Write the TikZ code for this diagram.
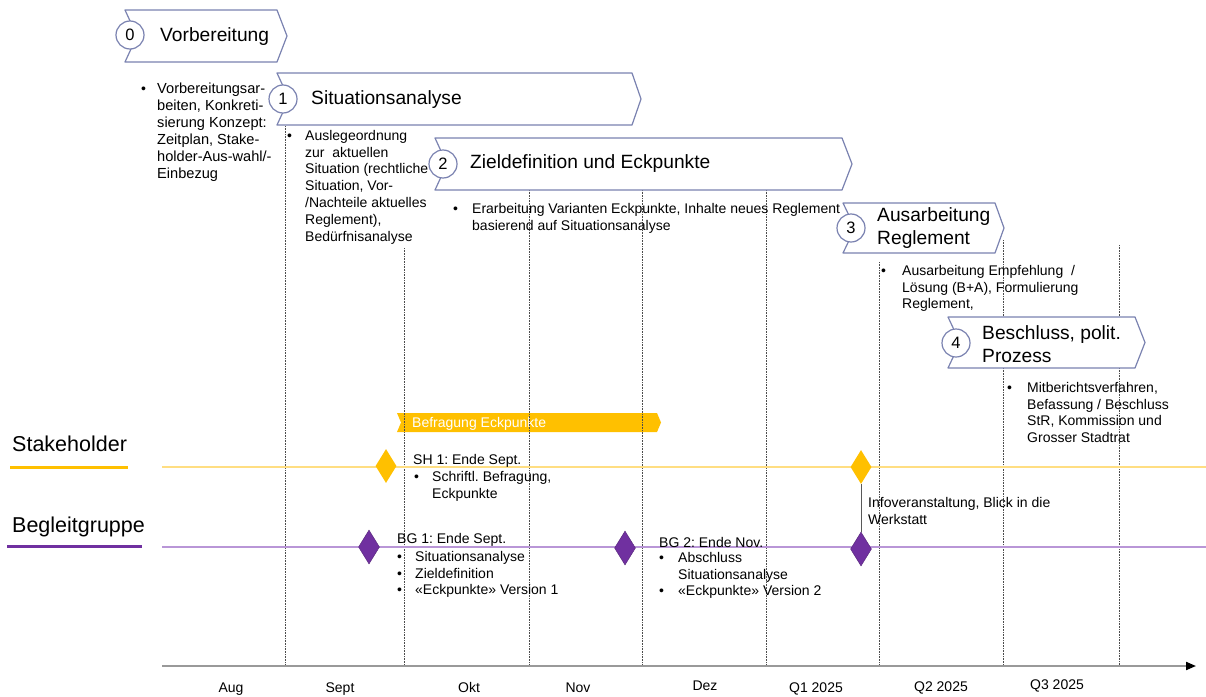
\documentclass[tikz,border=0pt]{standalone}
\usepackage{fontspec}
\setmainfont{Liberation Sans}
\usetikzlibrary{shapes.geometric,arrows.meta}

\definecolor{phaseblue}{RGB}{122,130,176}
\definecolor{shorange}{RGB}{255,192,0}
\definecolor{shline}{RGB}{255,222,130}
\definecolor{bgpurple}{RGB}{112,48,160}
\definecolor{bgline}{RGB}{185,150,215}

\tikzset{
  phase/.style={draw=phaseblue, fill=white, line width=1.2pt, line join=round},
  phasenum/.style={circle, draw=phaseblue, fill=white, line width=1.2pt, minimum size=28pt, inner sep=0pt, font=\fontsize{16.5}{19}\selectfont},
  phasetitle/.style={anchor=west, align=left, inner sep=0pt, font=\fontsize{19.2}{23}\selectfont},
  txt/.style={anchor=north west, align=left, inner sep=0pt, font=\fontsize{14}{16.8}\selectfont},
  bullet/.style={txt, execute at begin node=\vphantom{Ab}},
  guide/.style={densely dotted, black!70, line width=0.6pt},
  shdia/.style={diamond, fill=shorange, inner sep=0pt, minimum width=21pt, minimum height=34pt},
  bgdia/.style={diamond, fill=bgpurple, draw=bgpurple!75!black, line width=0.4pt, inner sep=0pt, minimum width=21pt, minimum height=34pt},
  month/.style={inner sep=0pt, anchor=base, font=\fontsize{14}{16}\selectfont},
  lane/.style={inner sep=0pt, anchor=west, font=\fontsize{21.5}{24}\selectfont}
}

\begin{document}
\frenchspacing
\begin{tikzpicture}[x=1pt, y=-1pt]
  \useasboundingbox (0,0) rectangle (1206,696);

  %------------- Befragung
  \fill[shorange] (397,413) -- (657,413) -- (661,422.5) -- (657,432) -- (397,432) -- (401,422.5) -- cycle;
  \node[txt, anchor=west, text=white] (befragung) at (412,424) {Befragung Eckpunkte};

  %------------- month grid
  \draw[guide] (285,126) -- (285,665);
  \draw[guide] (404,248) -- (404,665);
  \draw[guide] (529,190) -- (529,665);
  \draw[guide] (642,190) -- (642,665);
  \draw[guide] (766,190) -- (766,665);
  \draw[guide] (879,262) -- (879,665);
  \draw[guide] (1003,240) -- (1003,665);
  \draw[guide] (1119,245) -- (1119,665);

  %------------- phases
  \draw[phase] (125,10) -- (277,10) -- (287,36) -- (277,62) -- (125,62) -- (137,36) -- cycle;
  \node[phasenum] (n0) at (130,35) {0};
  \node[phasetitle] (t0) at (160,37) {Vorbereitung};

  \draw[phase] (277,73) -- (632,73) -- (641,99) -- (632,125) -- (277,125) -- (289,99) -- cycle;
  \node[phasenum] (n1) at (283,99) {1};
  \node[phasetitle] (t1) at (311,100) {Situationsanalyse};

  \draw[phase] (435,138) -- (842,138) -- (852,164) -- (842,190) -- (435,190) -- (447,164) -- cycle;
  \node[phasenum] (n2) at (443,164) {2};
  \node[phasetitle] (t2) at (470,164) {Zieldefinition und Eckpunkte};

  \draw[phase] (843,203) -- (995,203) -- (1004,228) -- (995,253) -- (843,253) -- (855,228) -- cycle;
  \node[phasenum] (n3) at (851,228) {3};
  \node[phasetitle] (t3) at (877,228.5) {Ausarbeitung\\Reglement};

  \draw[phase] (948,317) -- (1135,317) -- (1145,342.5) -- (1135,368) -- (948,368) -- (960,342.5) -- cycle;
  \node[phasenum] (n4) at (956,343) {4};
  \node[phasetitle] (t4) at (982,344) {Beschluss, polit.\\Prozess};

  %------------- phase texts
  \node[bullet] (b0) at (141,83) {•};
  \node[txt, font=\fontsize{14.6}{17}\selectfont] (d0) at (157,83) {Vorbereitungsar-\\beiten, Konkreti-\\sierung Konzept:\\Zeitplan, Stake-\\holder-Aus-wahl/-\\Einbezug};

  \node[bullet] (b1) at (287,130) {•};
  \node[txt] (d1) at (305,130) {Auslegeordnung\\zur~ aktuellen\\Situation (rechtliche\\Situation, Vor-\\/Nachteile aktuelles\\Reglement),\\Bedürfnisanalyse};

  \node[bullet] (b2) at (453,203) {•};
  \node[txt] (d2) at (472,203) {Erarbeitung Varianten Eckpunkte, Inhalte neues Reglement\\basierend auf Situationsanalyse};

  \node[bullet] (b3) at (881,265) {•};
  \node[txt] (d3) at (902,265) {Ausarbeitung Empfehlung~ /\\Lösung (B+A), Formulierung\\Reglement,};

  \node[bullet] (b4) at (1007,382) {•};
  \node[txt] (d4) at (1027,382) {Mitberichtsverfahren,\\Befassung / Beschluss\\StR, Kommission und\\Grosser Stadtrat};

  %------------- lanes
  \node[lane] (stakeholder) at (12,444) {Stakeholder};
  \draw[shorange, line width=3pt] (10,467) -- (128,467);
  \node[lane] (begleitgruppe) at (12,527) {Begleitgruppe};
  \draw[bgpurple, line width=3pt] (7,546) -- (142,546);

  \draw[shline, line width=1.5pt] (162,467) -- (1206,467);
  \draw[bgline, line width=1.5pt] (162,547) -- (1206,547);

  %------------- milestones
  \node[shdia] (sh1) at (386,466) {};
  \node[shdia] (sh2) at (861,467) {};
  \node[bgdia] (bg1) at (369,547) {};
  \node[bgdia] (bg2) at (625,548) {};
  \node[bgdia] (bg3) at (861,549) {};
  \draw[black!65, line width=1pt] (sh2.south) -- (bg3.north);

  \node[txt] (sh1lbl) at (413,454) {SH 1: Ende Sept.};
  \node[bullet] (sh1b) at (414,471) {•};
  \node[txt] (sh1txt) at (432,471) {Schriftl. Befragung,\\Eckpunkte};

  \node[txt] (info) at (868,497) {Infoveranstaltung, Blick in die\\Werkstatt};

  \node[txt] (bg1lbl) at (397,533) {BG 1: Ende Sept.};
  \node[bullet] (bg1b1) at (397,551) {•};
  \node[bullet] (bg1b2) at (397,567.8) {•};
  \node[bullet] (bg1b3) at (397,584.6) {•};
  \node[txt] (bg1txt) at (415,551) {Situationsanalyse\\Zieldefinition\\«Eckpunkte» Version 1};

  \node[txt] (bg2lbl) at (659,537) {BG 2: Ende Nov.};
  \node[bullet] (bg2b1) at (659,552) {•};
  \node[bullet] (bg2b2) at (659,585.6) {•};
  \node[txt] (bg2txt) at (678,552) {Abschluss\\Situationsanalyse\\«Eckpunkte» Version 2};

  %------------- time axis
  \coordinate (ax0) at (162,666);
  \coordinate (ax1) at (1196,666);
  \draw[black!40, line width=2pt, -{Triangle[black, length=10pt, width=8pt]}] (ax0) -- (ax1);

  \node[month] (aug) at (231,692) {Aug};
  \node[month] (sep) at (340,692) {Sept};
  \node[month] (okt) at (469,692) {Okt};
  \node[month] (nov) at (578,692) {Nov};
  \node[month] (dez) at (705,690) {Dez};
  \node[month] (q1) at (816,692) {Q1 2025};
  \node[month] (q2) at (941,691) {Q2 2025};
  \node[month] (q3) at (1057,689) {Q3 2025};

\end{tikzpicture}
\end{document}
